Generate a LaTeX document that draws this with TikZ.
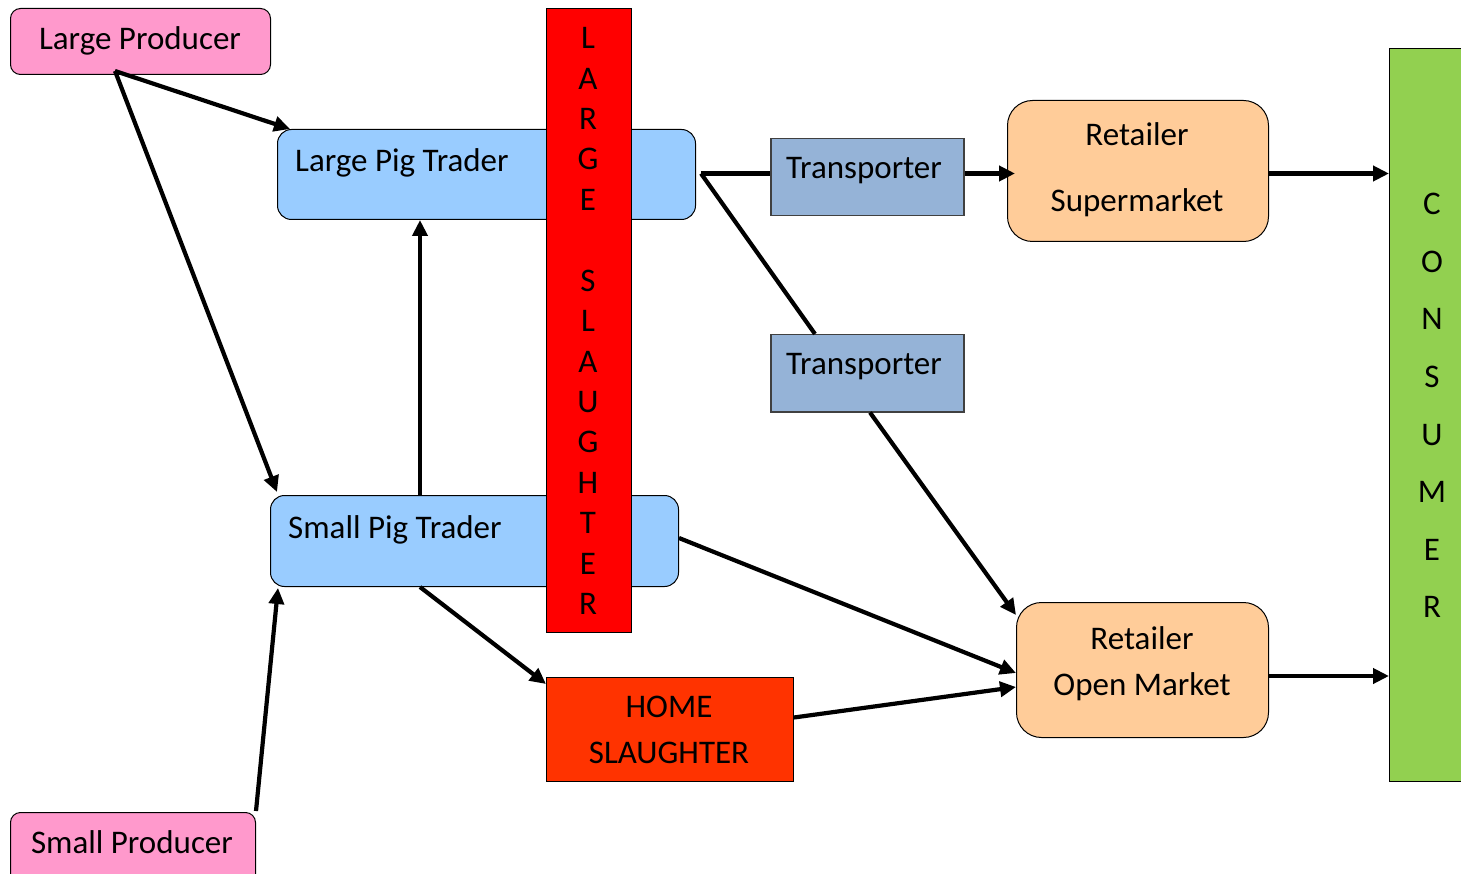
\documentclass[tikz,border=0pt]{standalone}
\usepackage{fontspec}
\setmainfont{Carlito}
\usetikzlibrary{arrows.meta,calc}
\definecolor{prodpink}{HTML}{FF99CC}
\definecolor{tradeblue}{HTML}{99CCFF}
\definecolor{slred}{HTML}{FF0000}
\definecolor{transblue}{HTML}{95B3D7}
\definecolor{retorange}{HTML}{FFCC99}
\definecolor{homered}{HTML}{FF3300}
\definecolor{consgreen}{HTML}{92D050}
\tikzset{
  box/.style={draw=black, line width=1pt, anchor=north west, inner sep=0pt},
  txt/.style={font=\fontsize{33}{40}\selectfont, inner sep=0pt},
  flow/.style={line width=4.2pt, -{Triangle[length=16pt,width=15pt]}},
  plain/.style={line width=4.2pt}
}
\begin{document}
\begin{tikzpicture}[x=1pt,y=-1pt]
\clip (0,0) rectangle (1461,874);
\useasboundingbox (0,0) rectangle (1461,874);
% boxes
\node[box, fill=prodpink, rounded corners=10pt, minimum width=260pt, minimum height=66pt] (lprod) at (10,8) {};
\node[box, fill=tradeblue, rounded corners=14pt, minimum width=418pt, minimum height=90pt] (lpt) at (277,129) {};
\node[box, fill=tradeblue, rounded corners=14pt, minimum width=408pt, minimum height=91pt] (spt) at (270,495) {};
\node[box, fill=prodpink, rounded corners=10pt, minimum width=245pt, minimum height=90pt] (sprod) at (10,812) {};
\node[box, fill=slred, minimum width=85pt, minimum height=624pt] (lsl) at (546,8) {};
\node[box, draw=black!75, line width=1.5pt, fill=transblue, minimum width=193pt, minimum height=77pt] (tr1) at (770,138) {};
\node[box, draw=black!75, line width=1.5pt, fill=transblue, minimum width=193pt, minimum height=77pt] (tr2) at (770,334) {};
\node[box, fill=retorange, rounded corners=25pt, minimum width=261pt, minimum height=141pt] (rsup) at (1007,100) {};
\node[box, fill=retorange, rounded corners=25pt, minimum width=252pt, minimum height=135pt] (rom) at (1016,602) {};
\node[box, fill=homered, minimum width=247pt, minimum height=104pt] (home) at (546,677) {};
\node[box, fill=consgreen, minimum width=110pt, minimum height=733pt] (cons) at (1389,48) {};
% texts
\node[txt, anchor=base] (tlprod) at (140,50) {Large Producer};
\node[txt, anchor=base west] (tlpt) at (295,172) {Large Pig Trader};
\node[txt, anchor=base west] (tspt) at (288,538) {Small Pig Trader};
\node[txt, anchor=base] (tsprod) at (132,853) {Small Producer};
\node[txt, anchor=base] (ttr1) at (864,179) {Transporter};
\node[txt, anchor=base] (ttr2) at (864,374) {Transporter};
\node[txt, anchor=base] (trs1) at (1137,146) {Retailer};
\node[txt, anchor=base] (trs2) at (1137,212) {Supermarket};
\node[txt, anchor=base] (tro1) at (1142,649) {Retailer};
\node[txt, anchor=base] (tro2) at (1142,695) {Open Market};
\node[txt, anchor=base] (th1) at (669,717) {HOME};
\node[txt, anchor=base] (th2) at (669,763) {SLAUGHTER};
\node[txt, align=center, font=\fontsize{33}{40.43}\selectfont] (tlsl) at (588,321)
  {L\\A\\R\\G\\E\\\mbox{}\\S\\L\\A\\U\\G\\H\\T\\E\\R};
\node[txt, align=center, font=\fontsize{33}{57.6}\selectfont] (tcons) at (1432,405.5)
  {C\\O\\N\\S\\U\\M\\E\\R};
% connectors
\coordinate (lpo) at ($(lprod.south west)+(105,-4)$);
\coordinate (j) at ($(lpt.east)+(5,-1)$);
\draw[flow] (lpo) -- ($(lpt.north west)+(13,0)$);
\draw[flow] (lpo) -- ($(spt.north west)+(7,-3)$);
\draw[flow] ($(spt.north west)+(150,0)$) -- ($(lpt.south west)+(143,0)$);
\draw[flow] ($(sprod.north east)+(0,-1)$) -- ($(spt.south west)+(8,1)$);
\draw[plain] (j) -- (tr1.west |- j);
\draw[flow] (tr1.east |- j) -- ($(rsup.west |- j)+(8,0)$);
\draw[plain] (j) -- ($(tr2.north west)+(45,0)$);
\draw[flow] ($(tr2.south west)+(100,0)$) -- ($(rom.north west)+(0,13)$);
\draw[flow] (rsup.east |- j) -- (cons.west |- j);
\draw[flow] ($(spt.east)+(0,-3)$) -- ($(rom.west)+(0,3)$);
\draw[flow] ($(spt.south west)+(150,0)$) -- ($(home.north west)+(0,7)$);
\draw[flow] ($(home.east)+(0,-12)$) -- ($(rom.west)+(0,17)$);
\coordinate (rome) at ($(rom.east)+(0,6)$);
\draw[flow] (rome) -- (cons.west |- rome);
\end{tikzpicture}
\end{document}
